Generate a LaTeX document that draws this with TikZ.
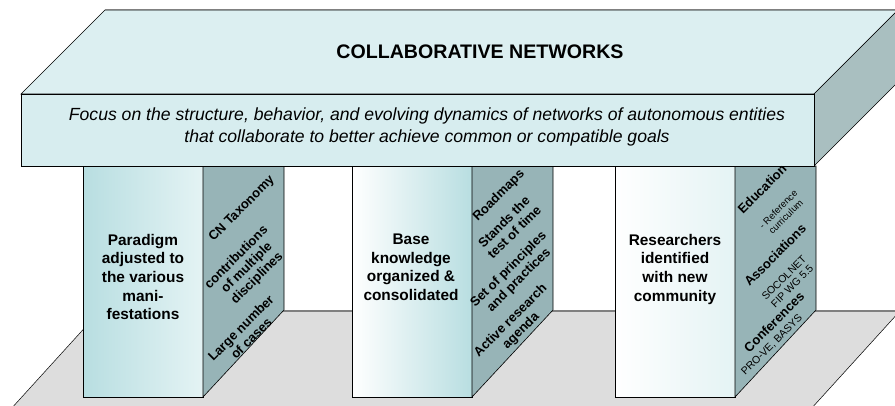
\documentclass[tikz,border=0pt]{standalone}
\usepackage{fontspec}
\setmainfont{Liberation Sans}
\usetikzlibrary{calc, positioning}
\definecolor{slabtop}{HTML}{DCEFF1}
\definecolor{slabfront}{HTML}{D7EDEF}
\definecolor{slabside}{HTML}{A9BFC0}
\definecolor{pillarside}{HTML}{97B4B7}
\definecolor{pillarteal}{HTML}{B8DEE1}
\definecolor{pillarpale}{HTML}{E4F3F4}
\definecolor{floorgray}{HTML}{DDDDDD}
\definecolor{edgegray}{HTML}{808080}
\tikzset{
    facenode/.style = {draw=black, line width=0.6pt, line join=miter},
    titlenode/.style = {draw=none, fill=none, inner sep=0pt, font=\fontsize{19.6}{23}\selectfont\bfseries},
    focusnode/.style = {draw=none, fill=none, inner sep=0pt, align=center,
      font=\fontsize{17.6}{22}\selectfont\itshape},
    pillartext/.style = {draw=none, fill=none, inner sep=0pt, align=center, anchor=north,
      font=\fontsize{15.4}{18.6}\selectfont\bfseries},
    sidetext/.style = {draw=none, fill=none, inner sep=0pt, align=center, rotate=45,
      font=\fontsize{13}{14.6}\selectfont\bfseries},
    sidesmall/.style = {draw=none, fill=none, inner sep=0pt, align=center, rotate=45,
      font=\fontsize{10.5}{11.6}\selectfont},
    every text node part/.style={align=center}
}

\begin{document}
\begin{tikzpicture}[x=1pt, y=-1pt]
    \clip (0,0) rectangle (895,406);
    \fill[floorgray] (100,311) -- (900,311) -- (810,410) -- (10,410) -- cycle;
    \draw[line width=0.5pt] (100,311) -- (10,410);
    \draw[line width=0.5pt] (900,311) -- (810,410);
    \draw[edgegray, line width=1.5pt] (100,311) -- (900,311);
    \foreach \xl/\lc/\mc/\rc in {83/pillarteal/pillarteal!60!pillarpale/pillarpale,
                                 352/white/pillarteal/pillarteal,
                                 615/white/pillarpale!50!white/pillarpale} {
      \draw[facenode, left color=\lc, middle color=\mc, right color=\rc] (\xl,166) rectangle ++(120,231);
      \draw[facenode, fill=pillarside] (\xl+120,166) -- ++(81,0) -- ++(0,144) -- ++(-81,87) -- cycle;
    }
    \draw[facenode, fill=slabtop] (21,94) -- (105,10) -- (898,10) -- (814,94) -- cycle;
    \draw[edgegray, line width=1pt] (105,10) -- (898,10);
    \draw[facenode, fill=slabside] (814,94) -- (898,10) -- (898,82) -- (814,166) -- cycle;
    \draw[facenode, fill=slabfront] (21,94) rectangle (814,166);
    \node[titlenode, name=T] at (480,52) {COLLABORATIVE NETWORKS};
    \node[focusnode, name=F] at (427,127) {Focus on the structure, behavior, and evolving dynamics of networks of autonomous entities\\
      that collaborate to better achieve common or compatible goals};
    \node[pillartext, name=P1] at (143,234) {Paradigm\\adjusted to\\the various\\mani-\\festations};
    \node[pillartext, name=P2] at (411,234) {Base\\knowledge\\organized \&\\consolidated};
    \node[pillartext, name=P3] at (675,234) {Researchers\\identified\\with new\\community};
    \node[sidetext, name=S11] at (242,209) {CN Taxonomy};
    \node[sidetext, name=S12] at (247,268) {contributions\\of multiple\\disciplines};
    \node[sidetext, name=S13] at (246,333) {Large number\\of cases};
    \node[sidetext, name=S21] at (499,196) {Roadmaps};
    \node[sidetext, name=S22] at (509,227) {Stands the\\test of time};
    \node[sidetext, name=S23] at (514,275) {Set of principles\\and practices};
    \node[sidetext, name=S24] at (516,326) {Active research\\agenda};
    \node[sidetext, name=S31] at (762,189) {Education};
    \node[sidesmall, name=S32, font=\fontsize{9.5}{10.6}\selectfont] at (782,213) {- Reference\\curriculum};
    \node[sidetext, name=S33] at (775,255) {Associations};
    \node[sidesmall, name=S34] at (788,282) {SOCOLNET\\FIP WG 5.5};
    \node[sidetext, name=S35] at (774,322) {Conferences};
    \node[sidesmall, name=S36] at (772,345) {PRO-VE, BASYS};
\end{tikzpicture}
\end{document}
